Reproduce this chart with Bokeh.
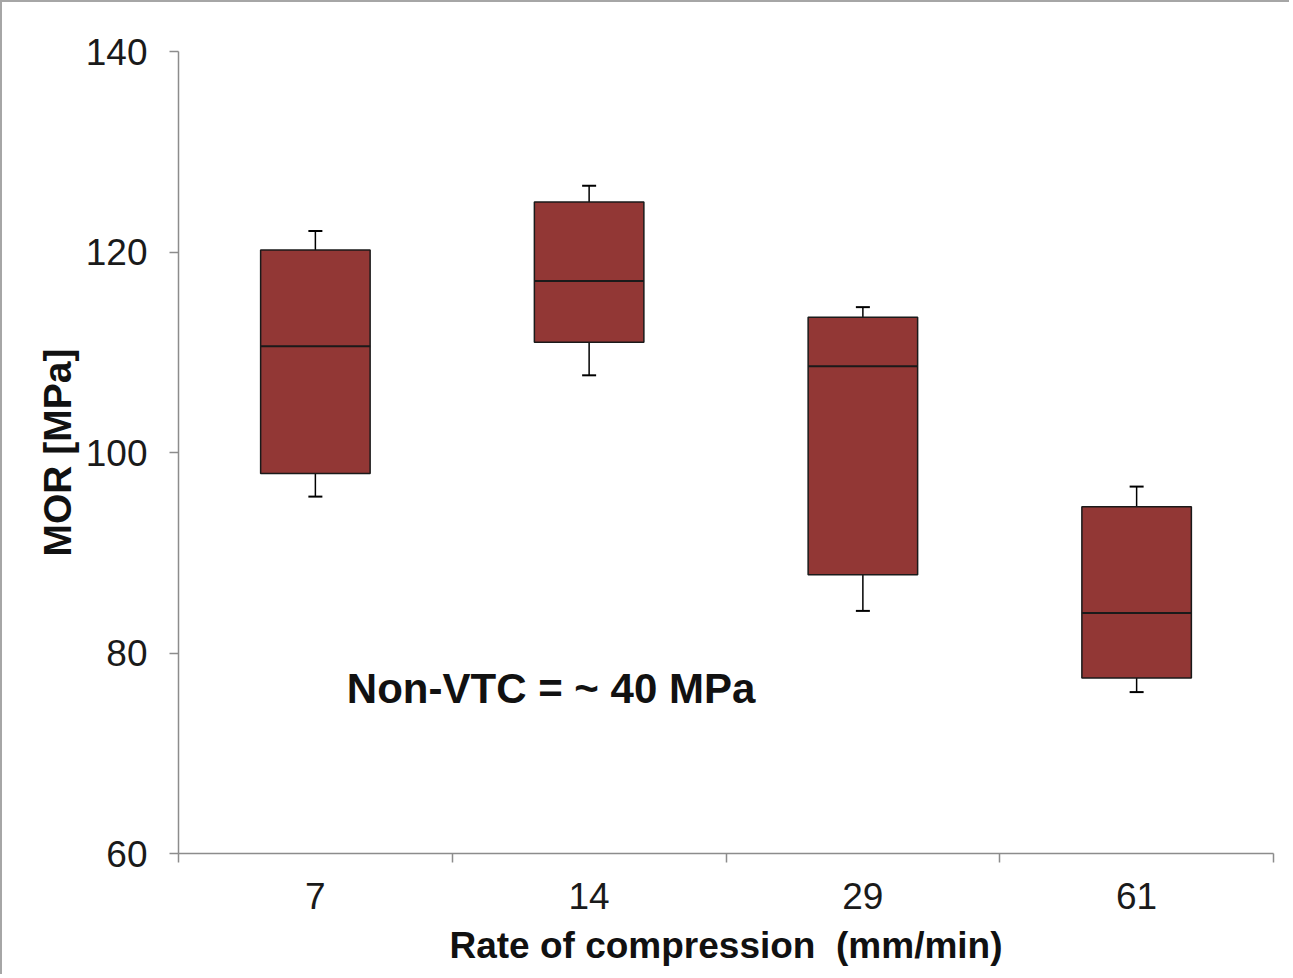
from bokeh.plotting import figure
from bokeh.models import Range1d, FixedTicker, Label, ColumnDataSource
from bokeh.embed import file_html
from bokeh.resources import INLINE

# ---- data ----
rates = ["7", "14", "29", "61"]
whisker_low = [95.6, 107.7, 84.2, 76.1]
q1 = [97.9, 111.0, 87.8, 77.5]
median = [110.6, 117.1, 108.6, 84.0]
q3 = [120.2, 125.0, 113.5, 94.6]
whisker_high = [122.1, 126.6, 114.5, 96.6]
y_ticks = [60, 80, 100, 120, 140]
note_text = "Non-VTC = ~ 40 MPa"
x_title = "Rate of compression \u00a0(mm/min)"
y_title = "MOR [MPa]"

BOX_W = 0.4
xs = [i + 0.5 for i in range(len(rates))]
src = ColumnDataSource(dict(
    x=xs, lo=whisker_low, q1=q1, med=median, q3=q3, hi=whisker_high,
    mx0=[x - BOX_W / 2 for x in xs], mx1=[x + BOX_W / 2 for x in xs],
))

FONT = "Liberation Sans"
AX = "#8c8c8c"

p = figure(width=1289, height=974, output_backend="svg", toolbar_location=None,
           x_range=Range1d(0, len(rates)), y_range=Range1d(60, 140),
           min_border_left=176, min_border_right=18, min_border_top=49,
           min_border_bottom=123)
p.styles = {"border-top": "2px solid #a6a6a6", "border-left": "2px solid #a6a6a6"}
p.outline_line_color = None
p.xgrid.visible = False
p.ygrid.visible = False

# whiskers
p.segment(x0="x", y0="lo", x1="x", y1="q1", source=src, line_color="black", line_width=1.5)
p.segment(x0="x", y0="q3", x1="x", y1="hi", source=src, line_color="black", line_width=1.5)
p.scatter(x="x", y="lo", source=src, marker="dash", size=14, line_color="black", line_width=2)
p.scatter(x="x", y="hi", source=src, marker="dash", size=14, line_color="black", line_width=2)
# boxes
p.vbar(x="x", width=BOX_W, bottom="q1", top="q3", source=src,
       fill_color="#923735", line_color="#1a1a1a", line_width=1.5)
p.segment(x0="mx0", y0="med", x1="mx1", y1="med", source=src, line_color="#1a1a1a", line_width=2)

# x axis
xa = p.xaxis[0]
xa.ticker = FixedTicker(ticks=xs, minor_ticks=list(range(len(rates) + 1)))
xa.major_label_overrides = {x: r for x, r in zip(xs, rates)}
xa.major_tick_out = 0
xa.major_tick_in = 0
xa.minor_tick_out = 9
xa.minor_tick_in = 0
xa.minor_tick_line_color = AX
xa.axis_line_color = AX
xa.axis_line_width = 1.5
xa.minor_tick_line_width = 1.5
xa.major_label_text_font = FONT
xa.major_label_text_font_size = "37px"
xa.major_label_text_color = "#1a1a1a"
xa.major_label_standoff = 20
xa.axis_label = x_title
xa.axis_label_text_font = FONT
xa.axis_label_text_font_style = "bold"
xa.axis_label_text_font_size = "37px"
xa.axis_label_text_color = "#111111"
xa.axis_label_standoff = 13

# y axis
ya = p.yaxis[0]
ya.ticker = FixedTicker(ticks=y_ticks, minor_ticks=[])
ya.major_tick_out = 9
ya.major_tick_in = 0
ya.major_tick_line_color = AX
ya.major_tick_line_width = 1.5
ya.minor_tick_out = 0
ya.minor_tick_in = 0
ya.axis_line_color = AX
ya.axis_line_width = 1.5
ya.major_label_text_font = FONT
ya.major_label_text_font_size = "37px"
ya.major_label_text_color = "#1a1a1a"
ya.major_label_standoff = 22
ya.axis_label = y_title
ya.axis_label_text_font = FONT
ya.axis_label_text_font_style = "bold"
ya.axis_label_text_font_size = "39px"
ya.axis_label_text_color = "#111111"
ya.axis_label_standoff = 4

p.add_layout(Label(x=0.615, y=76.5, text=note_text, text_font=FONT, text_font_style="bold",
                   text_font_size="42px", text_color="#111111", text_baseline="alphabetic"))

open("out.html", "w").write(file_html(p, INLINE))
